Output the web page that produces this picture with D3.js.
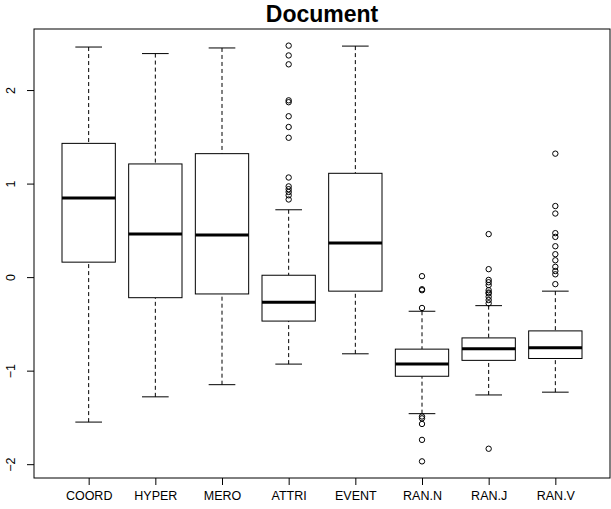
<!DOCTYPE html>
<html>
<head>
<meta charset="utf-8">
<script src="https://cdn.jsdelivr.net/npm/d3@7"></script>
<style>
  html, body { margin: 0; padding: 0; background: #fff; }
  svg { display: block; font-family: "Liberation Sans", Arial, Helvetica, sans-serif; }
</style>
</head>
<body>
<svg id="chart" width="611" height="509"></svg>
<script>
// Box-plot summaries per relation type
const categories  = ["COORD", "HYPER", "MERO", "ATTRI", "EVENT", "RAN.N", "RAN.J", "RAN.V"];
const whiskerLow  = [-1.55, -1.28, -1.15, -0.93, -0.82, -1.46, -1.26, -1.23];
const q1          = [0.16, -0.22, -0.18, -0.47, -0.15, -1.06, -0.89, -0.87];
const medians     = [0.845, 0.46, 0.45, -0.27, 0.365, -0.93, -0.765, -0.755];
const q3          = [1.43, 1.21, 1.32, 0.02, 1.11, -0.77, -0.65, -0.575];
const whiskerHigh = [2.46, 2.39, 2.45, 0.72, 2.47, -0.365, -0.305, -0.15];
const outliers = [
  [],
  [],
  [],
  [2.475, 2.37, 2.275, 1.89, 1.87, 1.72, 1.605, 1.49, 1.065, 0.97, 0.94, 0.91, 0.875, 0.83],
  [],
  [0.01, -0.13, -0.14, -0.33, -1.49, -1.51, -1.57, -1.74, -1.97],
  [0.46, 0.085, -0.03, -0.055, -0.085, -0.14, -0.165, -0.175, -0.21, -0.245, -0.28, -1.835],
  [1.32, 0.76, 0.68, 0.47, 0.43, 0.33, 0.245, 0.18, 0.11, 0.065, 0.03, -0.075]
];
const yTicks = [-2, -1, 0, 1, 2];
const title = "Document";

const plot = { left: 34, right: 610, top: 29, bottom: 478 };
const svg = d3.select("#chart");

// Positions 1..n on [0.5, n + 0.5], widened by 4% on each side
const n = categories.length;
const xSpan = n;
const x = d3.scaleLinear()
  .domain([0.5 - 0.04 * xSpan, n + 0.5 + 0.04 * xSpan])
  .range([plot.left, plot.right]);
const allVals = whiskerLow.concat(whiskerHigh, outliers.flat());
const yMin = d3.min(allVals), yMax = d3.max(allVals);
const yr = yMax - yMin;
const y = d3.scaleLinear()
  .domain([yMin - 0.04 * yr, yMax + 0.04 * yr])
  .range([plot.bottom, plot.top]);

const unit = x(2) - x(1);
const boxW = 0.8 * unit;
const capW = 0.4 * unit;

const data = categories.map((c, i) => ({
  name: c, pos: i + 1,
  lo: whiskerLow[i], q1: q1[i], med: medians[i], q3: q3[i], hi: whiskerHigh[i],
  out: outliers[i]
}));

const g = svg.append("g");

const box = g.selectAll("g.box").data(data).join("g").attr("class", "box");

// dashed whiskers, drawn from the whisker end toward the box
box.append("line")
  .attr("x1", d => x(d.pos)).attr("x2", d => x(d.pos))
  .attr("y1", d => y(d.lo)).attr("y2", d => y(d.q1))
  .attr("stroke", "#000").attr("stroke-width", 1).attr("stroke-dasharray", "4,3");
box.append("line")
  .attr("x1", d => x(d.pos)).attr("x2", d => x(d.pos))
  .attr("y1", d => y(d.hi)).attr("y2", d => y(d.q3))
  .attr("stroke", "#000").attr("stroke-width", 1).attr("stroke-dasharray", "4,3");

// staples
box.append("line")
  .attr("x1", d => x(d.pos) - capW / 2).attr("x2", d => x(d.pos) + capW / 2)
  .attr("y1", d => y(d.lo)).attr("y2", d => y(d.lo))
  .attr("stroke", "#000").attr("stroke-width", 1);
box.append("line")
  .attr("x1", d => x(d.pos) - capW / 2).attr("x2", d => x(d.pos) + capW / 2)
  .attr("y1", d => y(d.hi)).attr("y2", d => y(d.hi))
  .attr("stroke", "#000").attr("stroke-width", 1);

// boxes
box.append("rect")
  .attr("x", d => x(d.pos) - boxW / 2)
  .attr("width", boxW)
  .attr("y", d => y(d.q3))
  .attr("height", d => y(d.q1) - y(d.q3))
  .attr("fill", "#fff").attr("stroke", "#000").attr("stroke-width", 1);

// medians
box.append("line")
  .attr("x1", d => x(d.pos) - boxW / 2).attr("x2", d => x(d.pos) + boxW / 2)
  .attr("y1", d => y(d.med)).attr("y2", d => y(d.med))
  .attr("stroke", "#000").attr("stroke-width", 3);

// outliers
box.selectAll("circle")
  .data(d => d.out.map(v => ({ pos: d.pos, v })))
  .join("circle")
  .attr("cx", d => x(d.pos))
  .attr("cy", d => y(d.v))
  .attr("r", 2.7)
  .attr("fill", "none").attr("stroke", "#000").attr("stroke-width", 1);

// frame
svg.append("rect")
  .attr("x", plot.left).attr("y", plot.top)
  .attr("width", plot.right - plot.left).attr("height", plot.bottom - plot.top)
  .attr("fill", "none").attr("stroke", "#000").attr("stroke-width", 1);

// left axis with rotated labels
const yAxis = svg.append("g")
  .attr("transform", `translate(${plot.left},0)`)
  .call(d3.axisLeft(y).tickValues(yTicks).tickSize(7)
    .tickFormat(d => d < 0 ? "\u2212" + Math.abs(d) : String(d)));
yAxis.select(".domain").remove();
yAxis.selectAll("line").attr("stroke", "#000");
yAxis.selectAll("text")
  .attr("fill", "#000")
  .attr("font-size", 12.5)
  .attr("font-family", "Liberation Sans, Arial, sans-serif")
  .attr("text-anchor", "middle")
  .attr("x", 0).attr("dy", null).attr("y", 0)
  .attr("transform", "translate(-19,0) rotate(-90)");

// bottom axis with category names
const xAxis = svg.append("g")
  .attr("transform", `translate(0,${plot.bottom})`)
  .call(d3.axisBottom(x).tickValues(data.map(d => d.pos)).tickSize(7)
    .tickFormat((d, i) => categories[i]));
xAxis.select(".domain").remove();
xAxis.selectAll("line").attr("stroke", "#000");
xAxis.selectAll("text")
  .attr("fill", "#000")
  .attr("font-size", 12.5)
  .attr("font-family", "Liberation Sans, Arial, sans-serif")
  .attr("dy", null).attr("y", 22);

// title
svg.append("text")
  .attr("x", (plot.left + plot.right) / 2)
  .attr("y", 22)
  .attr("text-anchor", "middle")
  .attr("font-weight", "bold")
  .attr("font-size", 23)
  .attr("fill", "#000")
  .text(title);
</script>
</body>
</html>
